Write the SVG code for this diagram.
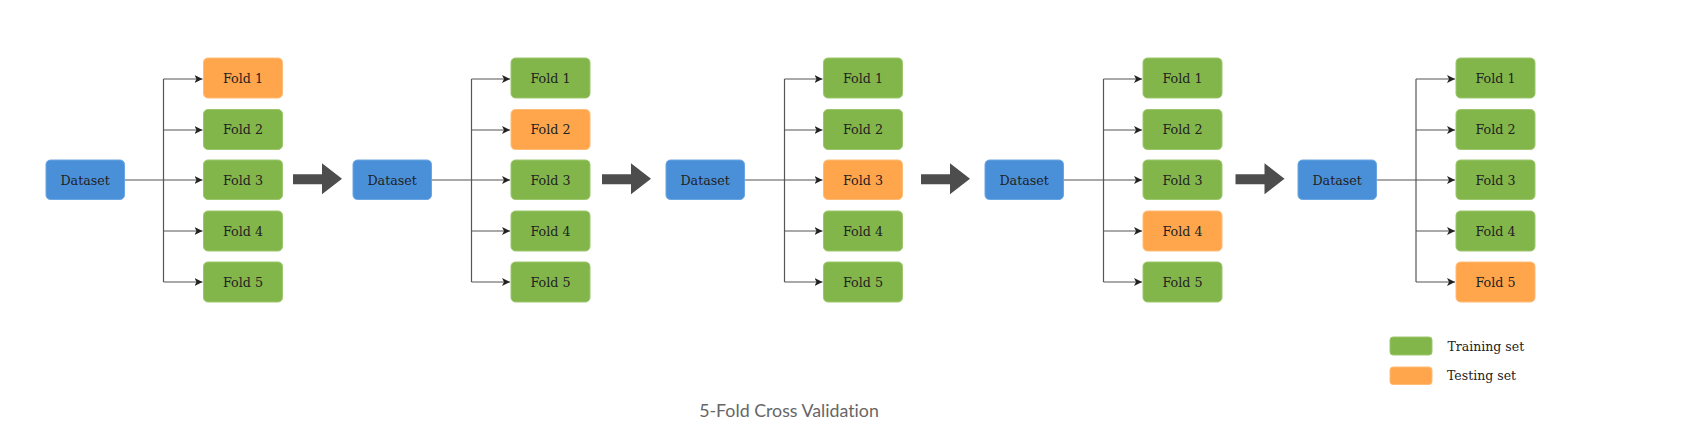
<svg xmlns="http://www.w3.org/2000/svg" width="1689" height="435" viewBox="0 0 1689 435">
<style>
.ds{fill:#4A90D9;stroke:#6AA6E3;stroke-width:1}
.tr{fill:#82B64A;stroke:#9CC76C;stroke-width:1}
.te{fill:#FFA64D;stroke:#FFBC77;stroke-width:1}
.lbl{font-family:"DejaVu Serif","Liberation Serif",serif;font-size:12.7px;fill:#222;text-anchor:middle;dominant-baseline:central}
.lg{font-family:"DejaVu Serif","Liberation Serif",serif;font-size:12.5px;fill:#222}
.ln{fill:none;stroke:#555;stroke-width:1.2}
.big{fill:#4D4D4D}
.cap{font-family:Lato,"Open Sans",sans-serif;font-size:17.8px;fill:#666;text-anchor:middle;font-variant-ligatures:none;font-feature-settings:"liga" 0}
</style>
<defs>
<marker id="ah" markerUnits="userSpaceOnUse" markerWidth="9" markerHeight="9" refX="8" refY="4" orient="auto" viewBox="0 0 9 8">
<path d="M0,0 L8,4 L0,8 L2,4 z" fill="#222"/>
</marker>
</defs>
<rect width="1689" height="435" fill="#fff"/>

<g id="connectors">
<!-- panel 1 -->
<path class="ln" d="M124.5,180 H202.5" marker-end="url(#ah)"/>
<path class="ln" d="M163.5,79 V282"/>
<path class="ln" d="M163.5,79 H202.5" marker-end="url(#ah)"/>
<path class="ln" d="M163.5,130 H202.5" marker-end="url(#ah)"/>
<path class="ln" d="M163.5,231 H202.5" marker-end="url(#ah)"/>
<path class="ln" d="M163.5,282 H202.5" marker-end="url(#ah)"/>
<!-- panel 2 -->
<path class="ln" d="M431.5,180 H510" marker-end="url(#ah)"/>
<path class="ln" d="M471.5,79 V282"/>
<path class="ln" d="M471.5,79 H510" marker-end="url(#ah)"/>
<path class="ln" d="M471.5,130 H510" marker-end="url(#ah)"/>
<path class="ln" d="M471.5,231 H510" marker-end="url(#ah)"/>
<path class="ln" d="M471.5,282 H510" marker-end="url(#ah)"/>
<!-- panel 3 -->
<path class="ln" d="M744.5,180 H822.5" marker-end="url(#ah)"/>
<path class="ln" d="M784.5,79 V282"/>
<path class="ln" d="M784.5,79 H822.5" marker-end="url(#ah)"/>
<path class="ln" d="M784.5,130 H822.5" marker-end="url(#ah)"/>
<path class="ln" d="M784.5,231 H822.5" marker-end="url(#ah)"/>
<path class="ln" d="M784.5,282 H822.5" marker-end="url(#ah)"/>
<!-- panel 4 -->
<path class="ln" d="M1063.5,180 H1142" marker-end="url(#ah)"/>
<path class="ln" d="M1103.5,79 V282"/>
<path class="ln" d="M1103.5,79 H1142" marker-end="url(#ah)"/>
<path class="ln" d="M1103.5,130 H1142" marker-end="url(#ah)"/>
<path class="ln" d="M1103.5,231 H1142" marker-end="url(#ah)"/>
<path class="ln" d="M1103.5,282 H1142" marker-end="url(#ah)"/>
<!-- panel 5 -->
<path class="ln" d="M1376.5,180 H1455" marker-end="url(#ah)"/>
<path class="ln" d="M1416,79 V282"/>
<path class="ln" d="M1416,79 H1455" marker-end="url(#ah)"/>
<path class="ln" d="M1416,130 H1455" marker-end="url(#ah)"/>
<path class="ln" d="M1416,231 H1455" marker-end="url(#ah)"/>
<path class="ln" d="M1416,282 H1455" marker-end="url(#ah)"/>
<!-- big arrows -->
<path class="big" d="M293,174.3 H322 V163.3 L342,178.8 L322,194.3 V184.3 H293 Z"/>
<path class="big" d="M602,174.3 H631 V163.3 L651,178.8 L631,194.3 V184.3 H602 Z"/>
<path class="big" d="M921,174.3 H950 V163.3 L970,178.8 L950,194.3 V184.3 H921 Z"/>
<path class="big" d="M1235.5,174.3 H1264.5 V163.3 L1284.5,178.8 L1264.5,194.3 V184.3 H1235.5 Z"/>
</g>

<!-- panel 1 -->
<g id="p1-dataset"><rect class="ds" x="46" y="160" width="78.5" height="39.5" rx="4.5"/><text class="lbl" x="85.2" y="180">Dataset</text></g>
<g id="p1-fold1"><rect class="te" x="203.5" y="58" width="79" height="40" rx="4.5"/><text class="lbl" x="243" y="78.5">Fold 1</text></g>
<g id="p1-fold2"><rect class="tr" x="203.5" y="109.5" width="79" height="40" rx="4.5"/><text class="lbl" x="243" y="129.5">Fold 2</text></g>
<g id="p1-fold3"><rect class="tr" x="203.5" y="160" width="79" height="39.5" rx="4.5"/><text class="lbl" x="243" y="180">Fold 3</text></g>
<g id="p1-fold4"><rect class="tr" x="203.5" y="211" width="79" height="40" rx="4.5"/><text class="lbl" x="243" y="231">Fold 4</text></g>
<g id="p1-fold5"><rect class="tr" x="203.5" y="262" width="79" height="40" rx="4.5"/><text class="lbl" x="243" y="282">Fold 5</text></g>

<!-- panel 2 -->
<g id="p2-dataset"><rect class="ds" x="353" y="160" width="78.5" height="39.5" rx="4.5"/><text class="lbl" x="392.2" y="180">Dataset</text></g>
<g id="p2-fold1"><rect class="tr" x="511" y="58" width="79" height="40" rx="4.5"/><text class="lbl" x="550.5" y="78.5">Fold 1</text></g>
<g id="p2-fold2"><rect class="te" x="511" y="109.5" width="79" height="40" rx="4.5"/><text class="lbl" x="550.5" y="129.5">Fold 2</text></g>
<g id="p2-fold3"><rect class="tr" x="511" y="160" width="79" height="39.5" rx="4.5"/><text class="lbl" x="550.5" y="180">Fold 3</text></g>
<g id="p2-fold4"><rect class="tr" x="511" y="211" width="79" height="40" rx="4.5"/><text class="lbl" x="550.5" y="231">Fold 4</text></g>
<g id="p2-fold5"><rect class="tr" x="511" y="262" width="79" height="40" rx="4.5"/><text class="lbl" x="550.5" y="282">Fold 5</text></g>

<!-- panel 3 -->
<g id="p3-dataset"><rect class="ds" x="666" y="160" width="78.5" height="39.5" rx="4.5"/><text class="lbl" x="705.2" y="180">Dataset</text></g>
<g id="p3-fold1"><rect class="tr" x="823.5" y="58" width="79" height="40" rx="4.5"/><text class="lbl" x="863" y="78.5">Fold 1</text></g>
<g id="p3-fold2"><rect class="tr" x="823.5" y="109.5" width="79" height="40" rx="4.5"/><text class="lbl" x="863" y="129.5">Fold 2</text></g>
<g id="p3-fold3"><rect class="te" x="823.5" y="160" width="79" height="39.5" rx="4.5"/><text class="lbl" x="863" y="180">Fold 3</text></g>
<g id="p3-fold4"><rect class="tr" x="823.5" y="211" width="79" height="40" rx="4.5"/><text class="lbl" x="863" y="231">Fold 4</text></g>
<g id="p3-fold5"><rect class="tr" x="823.5" y="262" width="79" height="40" rx="4.5"/><text class="lbl" x="863" y="282">Fold 5</text></g>

<!-- panel 4 -->
<g id="p4-dataset"><rect class="ds" x="985" y="160" width="78.5" height="39.5" rx="4.5"/><text class="lbl" x="1024.2" y="180">Dataset</text></g>
<g id="p4-fold1"><rect class="tr" x="1143" y="58" width="79" height="40" rx="4.5"/><text class="lbl" x="1182.5" y="78.5">Fold 1</text></g>
<g id="p4-fold2"><rect class="tr" x="1143" y="109.5" width="79" height="40" rx="4.5"/><text class="lbl" x="1182.5" y="129.5">Fold 2</text></g>
<g id="p4-fold3"><rect class="tr" x="1143" y="160" width="79" height="39.5" rx="4.5"/><text class="lbl" x="1182.5" y="180">Fold 3</text></g>
<g id="p4-fold4"><rect class="te" x="1143" y="211" width="79" height="40" rx="4.5"/><text class="lbl" x="1182.5" y="231">Fold 4</text></g>
<g id="p4-fold5"><rect class="tr" x="1143" y="262" width="79" height="40" rx="4.5"/><text class="lbl" x="1182.5" y="282">Fold 5</text></g>

<!-- panel 5 -->
<g id="p5-dataset"><rect class="ds" x="1298" y="160" width="78.5" height="39.5" rx="4.5"/><text class="lbl" x="1337.2" y="180">Dataset</text></g>
<g id="p5-fold1"><rect class="tr" x="1456" y="58" width="79" height="40" rx="4.5"/><text class="lbl" x="1495.5" y="78.5">Fold 1</text></g>
<g id="p5-fold2"><rect class="tr" x="1456" y="109.5" width="79" height="40" rx="4.5"/><text class="lbl" x="1495.5" y="129.5">Fold 2</text></g>
<g id="p5-fold3"><rect class="tr" x="1456" y="160" width="79" height="39.5" rx="4.5"/><text class="lbl" x="1495.5" y="180">Fold 3</text></g>
<g id="p5-fold4"><rect class="tr" x="1456" y="211" width="79" height="40" rx="4.5"/><text class="lbl" x="1495.5" y="231">Fold 4</text></g>
<g id="p5-fold5"><rect class="te" x="1456" y="262" width="79" height="40" rx="4.5"/><text class="lbl" x="1495.5" y="282">Fold 5</text></g>

<!-- legend -->
<g id="legend-training"><rect class="tr" x="1390" y="337" width="42" height="18" rx="3"/><text class="lg" x="1447.5" y="351">Training set</text></g>
<g id="legend-testing"><rect class="te" x="1390" y="367" width="42" height="17.5" rx="3"/><text class="lg" x="1447" y="380">Testing set</text></g>

<g id="caption"><text class="cap" x="789" y="417">5-Fold Cross Validation</text></g>
</svg>
